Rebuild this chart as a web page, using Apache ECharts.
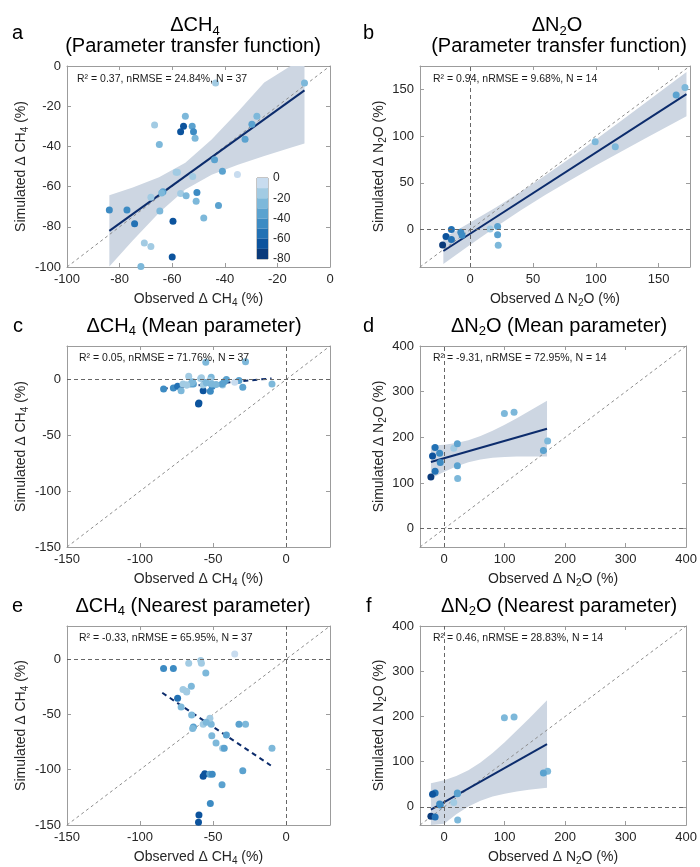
<!DOCTYPE html>
<html><head><meta charset="utf-8">
<script src="https://cdn.jsdelivr.net/npm/echarts@6/dist/echarts.min.js"></script>
<style>html,body{margin:0;padding:0;background:#fff}#c{width:700px;height:867px}</style>
</head><body><div id="c"></div>
<script>
// ---------------- DATA ----------------
// CH4 sites (N = 37): observed change, simulated change (3 methods), colour value
const ch4Observed    = [-9.7,-43.5,-27.8,-29.7,-32.3,-55,-55.7,-52.4,-51.9,-56.8,-51.3,-66.7,-64.9,-43.9,-40.9,-35.2,-58.5,-58,-52.2,-56.8,-54.7,-50.6,-50.9,-63.5,-64,-68.1,-64.7,-83.9,-77.2,-74.3,-59.7,-48,-42.4,-70.6,-68.1,-60,-71.9];
const ch4SimTransfer = [-8.5,-8.5,-25,-29,-36.5,-25,-30,-30,-32.7,-32.7,-36,-29.4,-39,-46.7,-52.4,-54,-52.8,-52.8,-55,-63.4,-64.6,-62.9,-67.3,-62.6,-63.2,-65.3,-72.1,-71.6,-71.6,-78.5,-77.3,-75.6,-69.4,-88,-89.8,-95,-99.8];
const ch4SimMean     = [-4,-5,16,-7,-1,15.5,-3,-2,-10.5,-10,2,3,-4,-4,0,-2.5,1,1.5,-1,-5,-3,-6,-4,-4,-2,-5,-3,-8.5,-7.5,-6,-21,-4.5,-2,-4,-5,-22,-10];
const ch4SimNearest  = [-80.5,-80.5,-58.8,-101,-58.8,-12.5,-103.6,-104,-130.5,-106,-58.8,-3.6,-24.5,-113.5,-68.7,4.7,-1.3,-3.6,-53.5,-58.8,-57,-104,-69.3,-61.3,-62.7,-29.6,-50.5,-8.4,-8.4,-35.3,-141,-75.9,-80.5,-27.5,-29,-147.5,-43.3];
const ch4Color       = [-25,-15,-25,-35,-35,-25,-65,-35,-45,-65,-25,-15,-25,-35,-35,-5,-15,-15,-15,-15,-25,-45,-25,-35,-25,-15,-25,-45,-45,-55,-65,-25,-35,-15,-15,-65,-25];

// N2O sites (N = 14)
const n2oObserved    = [171,164,99.5,115.5,15.8,21.8,21.8,22.3,-15,-19.3,-22,-15,-7.5,-6.5];
const n2oSimTransfer = [152,144,94,88.6,0.7,3.2,-5.4,-16.8,0,-7.5,-16.4,-10.7,-2.9,-6.1];
const n2oSimMean     = [192,171,252,255,176,186,138,110,178,159,113,126,165,145];
const n2oSimNearest  = [79,75,197,199,10,31,29,-29,31,28,-20.4,-22.5,6.5,4];
const n2oColor       = [-25,-35,-25,-25,-15,-35,-35,-25,-55,-65,-75,-55,-45,-45];

// Regression lines (end points) and 95% confidence bands
const fitAX = [-83.9, -9.7];  const fitAY = [-82, -12.1];
const fitBX = [-21.4, 172.2]; const fitBY = [-22.9, 145];
const fitCX = [-84.5, -10];   const fitCY = [-8.3, 1];
const fitDX = [-22, 170];     const fitDY = [146, 219];
const fitEX = [-84.8, -10.5]; const fitEY = [-30.4, -96.2];
const fitFX = [-22, 170];     const fitFY = [-5.8, 139];

const bandAX     = [-83.9, -75, -65, -55, -45, -35, -25, -15, -9.7];
const bandAUpper = [-64.3, -60.4, -55.4, -48.1, -36.6, -22.7, -8.2, 6.5, 14.4];
const bandALower = [-99.7, -86.8, -73.0, -61.5, -54.1, -49.1, -44.8, -40.7, -38.6];
const bandBX     = [-21.4, 0, 20, 40, 60, 80, 100, 120, 140, 160, 172.2];
const bandBUpper = [-8.9, 7.5, 23.4, 40.2, 58.1, 76.9, 96.3, 116.1, 136.1, 156.3, 168.7];
const bandBLower = [-36.9, -16.2, 2.6, 20.4, 37.3, 53.1, 68.5, 83.3, 98, 112.5, 121.3];
const bandDX     = [-22, 0, 20, 40, 60, 80, 100, 120, 140, 170];
const bandDUpper = [182, 184, 187.6, 193.7, 202.8, 214.4, 227.8, 242.1, 257, 280];
const bandDLower = [110, 124.8, 136.4, 145.5, 151.6, 155.2, 157, 157.9, 158.2, 158];
const bandFX     = [-22, 0, 20, 40, 60, 80, 100, 120, 140, 170];
const bandFUpper = [52.2, 59.1, 68.1, 80.9, 98.2, 119.4, 143.2, 168.7, 195.1, 235.7];
const bandFLower = [-63.8, -37.5, -16.3, 0.9, 13.8, 22.8, 29.2, 33.9, 37.7, 42.3];

const statsText = [
  'R² = 0.37, nRMSE = 24.84%, N = 37',
  'R² = 0.94, nRMSE = 9.68%, N = 14',
  'R² = 0.05, nRMSE = 71.76%, N = 37',
  'R² = -9.31, nRMSE = 72.95%, N = 14',
  'R² = -0.33, nRMSE = 65.95%, N = 37',
  'R² = 0.46, nRMSE = 28.83%, N = 14'
];
const panelLetters = ['a','b','c','d','e','f'];

// colour bar
const colorbarEdges  = [0, -10, -20, -30, -40, -50, -60, -70, -80];
const colorbarColors = ['#c8dcef','#a2cbe3','#7db8da','#5ba2cf','#3d8bc3','#2271b4','#0c539d','#0a3a7a'];

// ---------------- STYLE ----------------
const FONT = '"Liberation Sans", Arial, Helvetica, sans-serif';
const TXT = '#262626';
const AXC = '#9c9c9c';
const NAVY = '#0c2c6c';
const BAND = '#cdd6e2';

const pairs = (xs, ys) => xs.map((x, i) => [x, ys[i]]);

const panels = [
  {grid:[67,66,263,201], min:-100, max:0, interval:20, showMin:true, showMax:true, zero:false,
   obs:ch4Observed, sim:ch4SimTransfer, col:ch4Color, fitX:fitAX, fitY:fitAY, dashed:false,
   band:[bandAX,bandALower,bandAUpper], gas:'CH4', nameGapY:37, stat:[77,79.5]},
  {grid:[420,66,270,201], min:-40, max:175, interval:null, showMin:false, showMax:false, zero:true,
   obs:n2oObserved, sim:n2oSimTransfer, col:n2oColor, fitX:fitBX, fitY:fitBY, dashed:false,
   band:[bandBX,bandBLower,bandBUpper], gas:'N2O', nameGapY:32, stat:[433,79.5]},
  {grid:[67,346,263,201], min:-150, max:30, interval:50, showMin:true, showMax:false, zero:true,
   obs:ch4Observed, sim:ch4SimMean, col:ch4Color, fitX:fitCX, fitY:fitCY, dashed:true,
   band:null, gas:'CH4', nameGapY:37, stat:[79,358.5]},
  {grid:[420,346,270,201], min:-40, max:400, interval:null, showMin:false, showMax:true, zero:true,
   obs:n2oObserved, sim:n2oSimMean, col:n2oColor, fitX:fitDX, fitY:fitDY, dashed:false,
   band:[bandDX,bandDLower,bandDUpper], gas:'N2O', nameGapY:27, stat:[433,358.5]},
  {grid:[67,626,263,201], min:-150, max:30, interval:50, showMin:true, showMax:false, zero:true,
   obs:ch4Observed, sim:ch4SimNearest, col:ch4Color, fitX:fitEX, fitY:fitEY, dashed:true,
   band:null, gas:'CH4', nameGapY:37, stat:[79,638.5]},
  {grid:[420,626,270,201], min:-40, max:400, interval:null, showMin:false, showMax:true, zero:true,
   obs:n2oObserved, sim:n2oSimNearest, col:n2oColor, fitX:fitFX, fitY:fitFY, dashed:false,
   band:[bandFX,bandFLower,bandFUpper], gas:'N2O', nameGapY:31, stat:[433,638.5]}
];

function gasName(prefix, gas) {
  return gas === 'CH4'
    ? '{n|' + prefix + ' Δ CH}{s|4}{n| (%)}'
    : '{n|' + prefix + ' Δ N}{s|2}{n|O (%)}';
}
const nameStyle = {
  fontFamily: FONT, fontSize: 14, color: TXT,
  rich: {
    n: {fontFamily: FONT, fontSize: 14, color: TXT, verticalAlign: 'bottom', padding: [0,0,2,0]},
    s: {fontFamily: FONT, fontSize: 10, color: TXT, verticalAlign: 'bottom'}
  }
};

const grid = [], xAxis = [], yAxis = [], series = [], scatterIdx = [];

panels.forEach((p, i) => {
  grid.push({left:p.grid[0], top:p.grid[1], width:p.grid[2], height:p.grid[3], containLabel:false});
  const base = {
    type:'value', gridIndex:i, min:p.min, max:p.max, splitNumber:5,
    splitLine:{show:false},
    axisLine:{show:true, onZero:false, lineStyle:{color:AXC, width:1}},
    axisTick:{show:true, inside:true, length:4, lineStyle:{color:AXC}}
  };
  if (p.interval) base.interval = p.interval;
  const lab = {show:true, color:TXT, fontSize:13, fontFamily:FONT, margin:6,
               showMinLabel:p.showMin, showMaxLabel:p.showMax};
  xAxis.push(Object.assign({}, base, {position:'bottom', axisLabel:lab,
    name:gasName('Observed', p.gas), nameLocation:'middle', nameGap:25, nameTextStyle:nameStyle}));
  xAxis.push(Object.assign({}, base, {position:'top', axisLabel:{show:false}}));
  yAxis.push(Object.assign({}, base, {position:'left', axisLabel:lab,
    name:gasName('Simulated', p.gas), nameLocation:'middle', nameGap:p.nameGapY, nameTextStyle:nameStyle}));
  yAxis.push(Object.assign({}, base, {position:'right', axisLabel:{show:false}}));

  const xi = 2*i, yi = 2*i;
  if (p.band) {
    const [bx, lo, up] = p.band;
    series.push({type:'custom', xAxisIndex:xi, yAxisIndex:yi, silent:true, z:1, clip:true,
      data: bx.map((x, k) => [x, lo[k], up[k]]),
      encode:{x:0, y:[1,2]},
      renderItem: function (params, api) {
        if (params.dataIndex !== 0) return null;
        const upper = bx.map((x, k) => api.coord([x, up[k]]));
        const lower = bx.map((x, k) => api.coord([x, lo[k]])).reverse();
        const cs = params.coordSys;
        const pts = echarts.graphic.clipPointsByRect(upper.concat(lower),
          {x:cs.x, y:cs.y, width:cs.width, height:cs.height});
        return {type:'polygon', shape:{points:pts}, style:{fill:BAND}};
      }});
  }
  // 1:1 line and zero lines
  const ref = {type:'line', xAxisIndex:xi, yAxisIndex:yi, symbol:'none', silent:true, z:2,
    lineStyle:{color:'#8c8c8c', width:1, type:[3,3]},
    data:[[p.min, p.min],[p.max, p.max]]};
  if (p.zero) {
    ref.markLine = {silent:true, symbol:['none','none'], label:{show:false}, animation:false,
      lineStyle:{color:'#666666', width:1, type:[4,3]},
      data:[{xAxis:0},{yAxis:0}]};
  }
  series.push(ref);
  series.push({type:'line', xAxisIndex:xi, yAxisIndex:yi, symbol:'none', silent:true, z:3,
    lineStyle:{color:NAVY, width:2, type: p.dashed ? [5,4] : 'solid'},
    data: pairs(p.fitX, p.fitY)});
  scatterIdx.push(series.length);
  series.push({type:'scatter', xAxisIndex:xi, yAxisIndex:yi, symbolSize:7, z:4,
    itemStyle:{opacity:1},
    data: p.obs.map((x, k) => [x, p.sim[k], p.col[k]])});
});

// colour bar grid
grid.push({left:257, top:178, width:11, height:81, show:true, borderColor:'#8a8a8a', borderWidth:1, backgroundColor:'transparent'});
xAxis.push({type:'category', gridIndex:6, data:['cb'], show:false, boundaryGap:true});
yAxis.push({type:'value', gridIndex:6, min:-80, max:0, interval:20, position:'right',
  axisLine:{show:false}, axisTick:{show:false}, splitLine:{show:false},
  axisLabel:{color:TXT, fontSize:12, fontFamily:FONT, margin:5}});
colorbarColors.forEach((c, k) => {
  series.push({type:'bar', xAxisIndex:12, yAxisIndex:12, stack:'cb', barWidth:'100%', silent:true, z:2,
    itemStyle:{color:c}, data:[colorbarEdges[k+1] - colorbarEdges[k]]});
});

// texts
const titleRich = {
  t:{fontFamily:FONT, fontSize:20, fill:'#000', verticalAlign:'bottom', padding:[0,0,2,0]},
  s:{fontFamily:FONT, fontSize:13, fill:'#000', verticalAlign:'bottom'}
};
function txt(text, x, y, size, align, rich) {
  const st = {text, fontFamily:FONT, fontSize:size, fill:'#000', align:align, verticalAlign:'middle'};
  if (rich) st.rich = rich;
  return {type:'text', x, y, silent:true, style:st};
}
const graphic = [];
const letterPos = [[12,33],[363,33],[13,326],[363,326],[12,606],[366,606]];
panelLetters.forEach((l, i) => graphic.push(txt(l, letterPos[i][0], letterPos[i][1], 20, 'left')));
graphic.push(txt('{t|ΔCH}{s|4}', 195, 26.5, 20, 'center', titleRich));
graphic.push(txt('(Parameter transfer function)', 193, 46.5, 20, 'center'));
graphic.push(txt('{t|ΔN}{s|2}{t|O}', 557, 26.5, 20, 'center', titleRich));
graphic.push(txt('(Parameter transfer function)', 559, 46.5, 20, 'center'));
graphic.push(txt('{t|ΔCH}{s|4}{t| (Mean parameter)}', 194, 327, 20, 'center', titleRich));
graphic.push(txt('{t|ΔN}{s|2}{t|O (Mean parameter)}', 559, 327, 20, 'center', titleRich));
graphic.push(txt('{t|ΔCH}{s|4}{t| (Nearest parameter)}', 193, 607, 20, 'center', titleRich));
graphic.push(txt('{t|ΔN}{s|2}{t|O (Nearest parameter)}', 559, 607, 20, 'center', titleRich));
panels.forEach((p, i) => {
  const g = txt(statsText[i], p.stat[0], p.stat[1], 10.5, 'left');
  g.style.fill = '#1a1a1a';
  g.z = 10;
  graphic.push(g);
});

const chart = echarts.init(document.getElementById('c'), null, {renderer:'canvas'});
chart.setOption({
  animation:false,
  backgroundColor:'#fff',
  textStyle:{fontFamily:FONT},
  grid, xAxis, yAxis, series, graphic,
  visualMap:[{type:'piecewise', show:false, dimension:2, seriesIndex:scatterIdx,
    pieces: colorbarColors.map((c, k) => ({min:colorbarEdges[k+1], max:colorbarEdges[k], color:c}))}]
});
</script>
</body></html>
